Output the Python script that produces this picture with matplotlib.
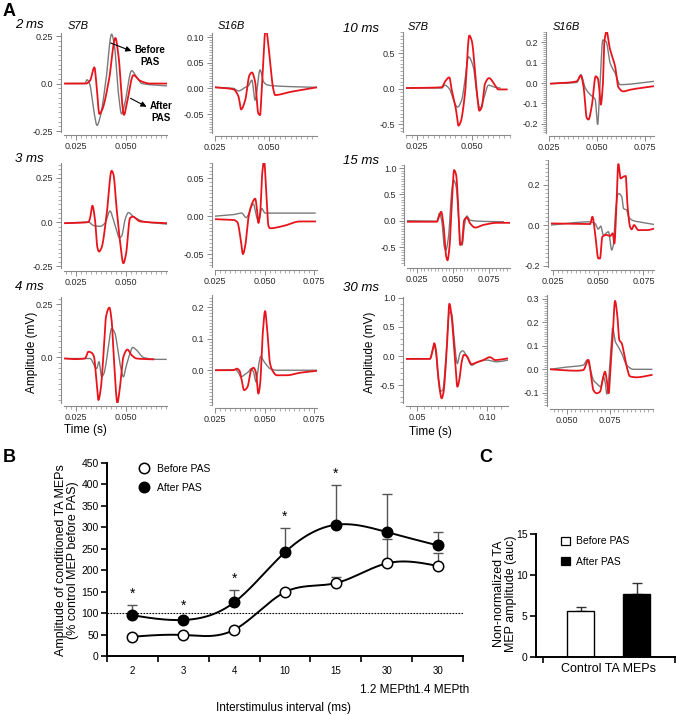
import numpy as np
import matplotlib
matplotlib.use("Agg")
import matplotlib.pyplot as plt
from matplotlib.ticker import MultipleLocator
from matplotlib.lines import Line2D
from matplotlib.patches import Patch

plt.rcParams['font.family'] = ['Liberation Sans', 'DejaVu Sans']

W, H = 676, 715
RED = '#e8141c'
GRAY = '#7a7a7a'
AXC = '#8a8a8a'

# ---------------- Panel A data: (time s, amplitude mV) ----------------
# grey = before PAS, red = after PAS
s7b_2ms_before = [(0.0195, 0.0), (0.0295, 0.0), (0.0305, 0.02), (0.0318, 0.0), (0.0340, -0.15), (0.0355, -0.22),
                  (0.0370, -0.18), (0.0400, 0.02), (0.0428, 0.26), (0.0442, 0.20), (0.0462, -0.05), (0.0478, -0.16),
                  (0.0495, -0.10), (0.0528, 0.068), (0.0550, 0.04), (0.0580, 0.0), (0.0703, -0.012)]
s7b_2ms_after = [(0.0195, 0.0), (0.0300, 0.0), (0.0320, 0.015), (0.0342, 0.085), (0.0352, 0.0), (0.0367, -0.16),
                 (0.0380, -0.14), (0.0415, 0.02), (0.0447, 0.24), (0.0462, 0.15), (0.0490, -0.165), (0.0505, -0.10),
                 (0.0537, 0.044), (0.0570, 0.015), (0.0620, 0.0), (0.0703, 0.0)]
s16b_2ms_before = [(0.0250, 0.002), (0.0335, 0.0), (0.0358, -0.005), (0.0389, 0.002), (0.0404, 0.005), (0.0420, 0.016),
                   (0.0435, -0.023), (0.0458, 0.036), (0.0474, 0.013), (0.0490, 0.007), (0.0520, 0.005), (0.0721, 0.002)]
s16b_2ms_after = [(0.0250, 0.002), (0.0335, -0.002), (0.0358, -0.016), (0.0370, -0.041), (0.0389, -0.023), (0.0409, 0.026),
                  (0.0420, 0.031), (0.0435, 0.013), (0.0450, -0.049), (0.0458, -0.052), (0.0466, 0.003), (0.0485, 0.118),
                  (0.0497, 0.082), (0.0520, -0.003), (0.0528, -0.013), (0.0597, -0.007), (0.0721, 0.002)]

s7b_3ms_before = [(0.0195, -0.006), (0.0312, 0.0), (0.0337, -0.019), (0.0370, -0.024), (0.0395, -0.006), (0.0420, 0.063),
                  (0.0437, 0.013), (0.0450, -0.033), (0.0467, -0.089), (0.0478, -0.080), (0.0495, 0.013), (0.0512, 0.054),
                  (0.0537, 0.031), (0.0587, 0.004), (0.0703, -0.011)]
s7b_3ms_after = [(0.0195, -0.006), (0.0312, 0.0), (0.0320, 0.022), (0.0332, 0.093), (0.0345, 0.013), (0.0357, -0.144),
                 (0.0365, -0.167), (0.0378, -0.144), (0.0403, 0.041), (0.0428, 0.291), (0.0437, 0.272), (0.0453, 0.078),
                 (0.0470, -0.107), (0.0487, -0.233), (0.0500, -0.181), (0.0520, 0.022), (0.0533, 0.031), (0.0570, 0.004),
                 (0.0703, -0.006)]
s16b_3ms_before = [(0.0250, 0.0), (0.0342, 0.002), (0.0384, 0.004), (0.0406, -0.002), (0.0443, 0.016), (0.0456, 0.002),
                   (0.0468, -0.007), (0.0485, 0.010), (0.0502, 0.004), (0.0544, 0.004), (0.0678, 0.004), (0.0754, 0.004)]
s16b_3ms_after = [(0.0250, -0.004), (0.0342, -0.005), (0.0362, -0.008), (0.0379, -0.031), (0.0390, -0.050), (0.0401, -0.040),
                  (0.0418, -0.002), (0.0435, 0.016), (0.0452, 0.023), (0.0460, 0.011), (0.0468, -0.009), (0.0477, 0.004),
                  (0.0488, 0.058), (0.0497, 0.073), (0.0507, 0.036), (0.0519, -0.013), (0.0527, -0.016), (0.0594, -0.013),
                  (0.0678, -0.007), (0.0754, -0.007)]

s7b_4ms_before = [(0.0195, -0.005), (0.0320, -0.005), (0.0353, -0.052), (0.0365, -0.020), (0.0378, -0.090), (0.0390, -0.075),
                  (0.0400, -0.028), (0.0412, 0.050), (0.0428, 0.136), (0.0445, 0.113), (0.0457, 0.050), (0.0473, -0.044),
                  (0.0487, -0.091), (0.0500, -0.044), (0.0520, 0.019), (0.0533, 0.047), (0.0553, 0.034), (0.0587, 0.0),
                  (0.0653, -0.009), (0.0700, -0.009)]
s7b_4ms_after = [(0.0195, -0.005), (0.0237, -0.008), (0.0295, -0.005), (0.0312, 0.027), (0.0328, 0.022), (0.0340, 0.003),
                 (0.0353, -0.122), (0.0362, -0.200), (0.0373, -0.153), (0.0390, 0.050), (0.0400, 0.191), (0.0417, 0.234),
                 (0.0428, 0.175), (0.0440, -0.013), (0.0457, -0.213), (0.0467, -0.161), (0.0487, 0.003), (0.0507, 0.037),
                 (0.0528, 0.011), (0.0553, -0.005), (0.0637, -0.009)]
s16b_4ms_before = [(0.0250, 0.0), (0.0351, 0.002), (0.0368, -0.008), (0.0379, -0.021), (0.0401, -0.013), (0.0418, -0.005),
                   (0.0431, 0.005), (0.0443, -0.005), (0.0456, -0.037), (0.0468, 0.011), (0.0480, 0.044), (0.0493, 0.031),
                   (0.0510, 0.016), (0.0527, 0.005), (0.0561, 0.0), (0.0762, 0.0)]
s16b_4ms_after = [(0.0250, 0.0), (0.0342, 0.0), (0.0359, 0.005), (0.0373, -0.002), (0.0384, -0.032), (0.0396, -0.063),
                  (0.0413, -0.053), (0.0431, 0.0), (0.0443, 0.008), (0.0455, -0.005), (0.0468, -0.074), (0.0477, -0.042),
                  (0.0490, 0.116), (0.0502, 0.187), (0.0510, 0.147), (0.0527, 0.021), (0.0540, -0.002), (0.0561, -0.016),
                  (0.0611, -0.016), (0.0678, -0.008), (0.0762, -0.002)]

s7b_10ms_before = [(0.0198, 0.01), (0.0362, 0.01), (0.0377, 0.05), (0.0397, 0.0), (0.0423, -0.21), (0.0434, -0.26),
                   (0.0454, -0.16), (0.0469, 0.12), (0.0485, 0.45), (0.0508, 0.30), (0.0523, -0.07), (0.0538, -0.28),
                   (0.0557, -0.12), (0.0577, 0.05), (0.0607, 0.02), (0.0630, 0.01)]
s7b_10ms_after = [(0.0198, 0.01), (0.0362, 0.02), (0.0377, 0.10), (0.0397, 0.16), (0.0408, -0.014), (0.0428, -0.30),
                  (0.0439, -0.52), (0.0449, -0.47), (0.0469, -0.07), (0.0489, 0.75), (0.0500, 0.68), (0.0523, -0.02),
                  (0.0535, -0.31), (0.0546, -0.26), (0.0561, 0.07), (0.0580, 0.15), (0.0607, 0.05), (0.0623, -0.01),
                  (0.0661, -0.01)]
s16b_10ms_before = [(0.0259, -0.003), (0.0394, 0.003), (0.0415, 0.041), (0.0438, -0.024), (0.0464, -0.057), (0.0490, -0.081),
                    (0.0503, -0.203), (0.0512, -0.065), (0.0530, 0.211), (0.0547, 0.203), (0.0568, 0.098), (0.0594, 0.049),
                    (0.0620, -0.008), (0.0793, 0.008)]
s16b_10ms_after = [(0.0259, -0.003), (0.0394, 0.008), (0.0415, 0.036), (0.0429, -0.016), (0.0446, -0.171), (0.0455, -0.179),
                   (0.0472, -0.114), (0.0493, 0.033), (0.0503, 0.024), (0.0516, -0.073), (0.0519, -0.106), (0.0530, -0.008),
                   (0.0538, 0.203), (0.0550, 0.252), (0.0564, 0.179), (0.0576, 0.138), (0.0594, 0.081), (0.0611, -0.020),
                   (0.0637, -0.041), (0.0672, -0.033), (0.0793, -0.016)]

s7b_15ms_before = [(0.0181, 0.0), (0.0389, -0.01), (0.0407, 0.14), (0.0424, -0.02), (0.0440, -0.49), (0.0451, -0.56),
                   (0.0470, -0.30), (0.0493, 0.58), (0.0505, 0.77), (0.0523, 0.65), (0.0539, 0.08), (0.0551, -0.40),
                   (0.0565, -0.46), (0.0579, -0.11), (0.0597, 0.09), (0.0620, 0.01), (0.0690, -0.01), (0.0852, -0.02)]
s7b_15ms_after = [(0.0181, -0.02), (0.0389, -0.02), (0.0407, 0.11), (0.0419, 0.17), (0.0435, -0.08), (0.0454, -0.68),
                  (0.0463, -0.75), (0.0477, -0.49), (0.0493, 0.33), (0.0509, 0.96), (0.0523, 0.87), (0.0539, 0.20),
                  (0.0551, -0.46), (0.0563, -0.43), (0.0579, 0.01), (0.0597, 0.06), (0.0620, -0.05), (0.0655, -0.13),
                  (0.0713, -0.08), (0.0806, -0.04), (0.0898, -0.04)]
s16b_15ms_before = [(0.0235, 0.0), (0.0454, 0.016), (0.0481, 0.008), (0.0500, -0.02), (0.0513, -0.005), (0.0528, -0.05),
                    (0.0556, -0.033), (0.0574, -0.123), (0.0583, -0.099), (0.0596, 0.074), (0.0611, 0.156), (0.0630, 0.140),
                    (0.0639, 0.082), (0.0657, 0.074), (0.0667, 0.044), (0.0685, 0.025), (0.0750, 0.012), (0.0809, 0.003)]
s16b_15ms_after = [(0.0235, 0.008), (0.0454, 0.005), (0.0467, 0.041), (0.0481, -0.033), (0.0500, -0.165), (0.0509, -0.165),
                   (0.0522, -0.058), (0.0546, -0.049), (0.0565, -0.054), (0.0580, -0.041), (0.0589, -0.091), (0.0598, 0.041),
                   (0.0611, 0.301), (0.0624, 0.230), (0.0639, 0.239), (0.0652, 0.242), (0.0661, 0.107), (0.0676, -0.008),
                   (0.0685, -0.021), (0.0698, 0.0), (0.0722, -0.025), (0.0769, -0.025), (0.0809, -0.018)]

s7b_30ms_before = [(0.0419, -0.05), (0.0590, -0.05), (0.0610, 0.13), (0.0621, 0.19), (0.0633, 0.05), (0.0650, -0.41),
                   (0.0662, -0.61), (0.0681, -0.59), (0.0705, -0.01), (0.0729, 0.76), (0.0745, 0.73), (0.0762, 0.33),
                   (0.0776, -0.01), (0.0786, -0.13), (0.0805, 0.05), (0.0824, 0.09), (0.0848, 0.02), (0.0888, -0.16),
                   (0.0924, -0.11), (0.0995, -0.07), (0.1067, -0.10), (0.1150, -0.07)]
s7b_30ms_after = [(0.0419, -0.05), (0.0590, -0.05), (0.0610, 0.10), (0.0621, 0.22), (0.0633, 0.10), (0.0650, -0.36),
                  (0.0674, -0.73), (0.0686, -0.64), (0.0710, 0.10), (0.0729, 0.90), (0.0745, 0.68), (0.0762, 0.16),
                  (0.0776, -0.30), (0.0786, -0.53), (0.0800, -0.41), (0.0817, -0.10), (0.0833, 0.02), (0.0852, 0.0),
                  (0.0888, -0.14), (0.0924, -0.11), (0.0971, -0.07), (0.1019, -0.02), (0.1055, -0.07), (0.1150, -0.04)]
s16b_30ms_before = [(0.0403, 0.0), (0.0481, 0.008), (0.0597, 0.018), (0.0620, 0.040), (0.0636, 0.004), (0.0655, -0.045),
                    (0.0674, -0.060), (0.0698, -0.074), (0.0713, -0.031), (0.0725, -0.060), (0.0733, -0.105), (0.0744, -0.045),
                    (0.0756, 0.082), (0.0767, 0.175), (0.0783, 0.118), (0.0800, 0.096), (0.0820, 0.068), (0.0849, 0.018),
                    (0.0888, 0.0), (0.0994, 0.0)]
s16b_30ms_after = [(0.0403, 0.0), (0.0558, -0.006), (0.0597, -0.003), (0.0626, 0.040), (0.0640, -0.014), (0.0655, -0.088),
                   (0.0674, -0.102), (0.0694, -0.095), (0.0709, -0.045), (0.0723, -0.010), (0.0733, -0.045), (0.0744, -0.102),
                   (0.0756, 0.026), (0.0767, 0.132), (0.0781, 0.291), (0.0795, 0.224), (0.0806, 0.125), (0.0820, 0.111),
                   (0.0833, 0.068), (0.0849, 0.011), (0.0868, -0.030), (0.0907, -0.034), (0.0994, -0.024)]

# ---------------- Panel B data ----------------
isi_labels = ['2', '3', '4', '10', '15', '30', '30']
before_pas = [45, 49, 61, 149, 170, 216, 210]
before_sem = [3, 3, 3, 6, 15, 57, 30]
after_pas = [95, 84, 125, 242, 306, 289, 258]
after_sem = [24, 6, 29, 56, 92, 89, 32]
significant = [True, True, True, True, True, False, False]

# ---------------- Panel C data ----------------
control_groups = ['Before PAS', 'After PAS']
control_auc = [5.55, 7.7]
control_sem = [0.55, 1.35]


def pchip_curve(pts, n=16):
    x = np.array([p[0] for p in pts], float)
    y = np.array([p[1] for p in pts], float)
    h = np.diff(x)
    d = np.diff(y) / h
    m = np.zeros_like(y)
    for k in range(1, len(x) - 1):
        if d[k - 1] * d[k] > 0:
            w1 = 2 * h[k] + h[k - 1]
            w2 = h[k] + 2 * h[k - 1]
            m[k] = (w1 + w2) / (w1 / d[k - 1] + w2 / d[k])
    m[0] = d[0]
    m[-1] = d[-1]
    xs, ys = [], []
    t = np.linspace(0, 1, n, endpoint=False)
    h00 = 2 * t**3 - 3 * t**2 + 1
    h10 = t**3 - 2 * t**2 + t
    h01 = -2 * t**3 + 3 * t**2
    h11 = t**3 - t**2
    for k in range(len(x) - 1):
        xs.append(x[k] + t * h[k])
        ys.append(h00 * y[k] + h10 * h[k] * m[k] + h01 * y[k + 1] + h11 * h[k] * m[k + 1])
    xs.append([x[-1]])
    ys.append([y[-1]])
    return np.concatenate(xs), np.concatenate(ys)


def natural_spline(x, y, xs):
    x = np.asarray(x, float)
    y = np.asarray(y, float)
    n = len(x)
    h = np.diff(x)
    A = np.zeros((n, n))
    r = np.zeros(n)
    A[0, 0] = A[-1, -1] = 1
    for i in range(1, n - 1):
        A[i, i - 1] = h[i - 1]
        A[i, i] = 2 * (h[i - 1] + h[i])
        A[i, i + 1] = h[i]
        r[i] = 6 * ((y[i + 1] - y[i]) / h[i] - (y[i] - y[i - 1]) / h[i - 1])
    M = np.linalg.solve(A, r)
    idx = np.clip(np.searchsorted(x, xs) - 1, 0, n - 2)
    x0, x1 = x[idx], x[idx + 1]
    hh = x1 - x0
    return (M[idx] * (x1 - xs)**3 / (6 * hh) + M[idx + 1] * (xs - x0)**3 / (6 * hh)
            + (y[idx] / hh - M[idx] * hh / 6) * (x1 - xs) + (y[idx + 1] / hh - M[idx + 1] * hh / 6) * (xs - x0))


fig = plt.figure(figsize=(W / 100, H / 100), dpi=100)


def ax_px(l, t, r, b):
    return fig.add_axes([l / W, 1 - b / H, (r - l) / W, (b - t) / H])


def ftext(x, y, s, **kw):
    return fig.text(x / W, 1 - y / H, s, **kw)


# ---------------- Panel A ----------------
panels = [
    (s7b_2ms_before, s7b_2ms_after, (64, 33, 167, 132), (0.019, 0.0705), (-0.255, 0.266),
     [0.025, 0.05], ['0.025', '0.050'], [-0.25, 0, 0.25], ['-0.25', '0.0', '0.25'], 0.0025, 0.025),
    (s16b_2ms_before, s16b_2ms_after, (215, 33, 317, 133), (0.0249, 0.0722), (-0.087, 0.108),
     [0.025, 0.05], ['0.025', '0.050'], [-0.05, 0, 0.05, 0.10], ['-0.05', '0.00', '0.05', '0.10'], 0.0025, 0.005),
    (s7b_10ms_before, s7b_10ms_after, (406, 32, 510, 132), (0.0198, 0.0676), (-0.61, 0.80),
     [0.025, 0.05], ['0.025', '0.050'], [-0.5, 0, 0.5], ['-0.5', '0.0', '0.5'], 0.0025, 0.05),
    (s16b_10ms_before, s16b_10ms_after, (549, 32, 654, 133), (0.0249, 0.0797), (-0.245, 0.25),
     [0.025, 0.05, 0.075], ['0.025', '0.050', '0.075'], [-0.2, -0.1, 0, 0.1, 0.2], ['-0.2', '-0.1', '0.0', '0.1', '0.2'], 0.0025, 0.01),
    (s7b_3ms_before, s7b_3ms_after, (64, 163, 167, 268), (0.019, 0.0705), (-0.26, 0.335),
     [0.025, 0.05], ['0.025', '0.050'], [-0.25, 0, 0.25], ['-0.25', '0.0', '0.25'], 0.0025, 0.025),
    (s16b_3ms_before, s16b_3ms_after, (215, 163, 317, 267), (0.0249, 0.0764), (-0.067, 0.07),
     [0.025, 0.05, 0.075], ['0.025', '0.050', '0.075'], [-0.05, 0, 0.05], ['-0.05', '0.00', '0.05'], 0.0025, 0.005),
    (s7b_15ms_before, s7b_15ms_after, (407, 165, 510, 265), (0.0181, 0.0898), (-0.84, 1.057),
     [0.025, 0.05, 0.075], ['0.025', '0.050', '0.075'], [-0.5, 0, 0.5, 1.0], ['-0.5', '0.0', '0.5', '1.0'], 0.0025, 0.05),
    (s16b_15ms_before, s16b_15ms_after, (551, 160, 654, 267), (0.0237, 0.0809), (-0.207, 0.321),
     [0.025, 0.05, 0.075], ['0.025', '0.050', '0.075'], [-0.2, 0, 0.2], ['-0.2', '0.0', '0.2'], 0.0025, 0.02),
    (s7b_4ms_before, s7b_4ms_after, (64, 297, 167, 403), (0.019, 0.0705), (-0.214, 0.284),
     [0.025, 0.05], ['0.025', '0.050'], [0, 0.25], ['0.0', '0.25'], 0.0025, 0.025),
    (s16b_4ms_before, s16b_4ms_after, (215, 295, 317, 405), (0.0249, 0.0764), (-0.11, 0.238),
     [0.025, 0.05, 0.075], ['0.025', '0.050', '0.075'], [0, 0.1, 0.2], ['0.0', '0.1', '0.2'], 0.0025, 0.01),
    (s7b_30ms_before, s7b_30ms_after, (406, 297, 508, 403), (0.0419, 0.1148), (-0.81, 1.017),
     [0.05, 0.10], ['0.05', '0.10'], [-0.5, 0, 0.5, 1.0], ['-0.5', '0.0', '0.5', '1.0'], 0.005, 0.1),
    (s16b_30ms_before, s16b_30ms_after, (550, 295, 653, 406), (0.0403, 0.1002), (-0.156, 0.316),
     [0.05, 0.075], ['0.050', '0.075'], [-0.1, 0, 0.1, 0.2, 0.3], ['-0.1', '0.0', '0.1', '0.2', '0.3'], 0.0025, 0.01),
]

for before, after, rect, xl, yl, xt, xtl, yt, ytl, xmin, ymin in panels:
    ax = ax_px(*rect)
    bx, by = pchip_curve(before)
    rx, ry = pchip_curve(after)
    ax.plot(bx, by, color=GRAY, lw=1.0)
    ax.plot(rx, ry, color=RED, lw=1.3)
    ax.set_xlim(*xl)
    ax.set_ylim(*yl)
    for s in ('top', 'right'):
        ax.spines[s].set_visible(False)
    for s in ('left', 'bottom'):
        ax.spines[s].set_position(('outward', 2.5))
        ax.spines[s].set_color(AXC)
        ax.spines[s].set_linewidth(0.8)
    ax.set_xticks(xt)
    ax.set_xticklabels(xtl)
    ax.set_yticks(yt)
    ax.set_yticklabels(ytl)
    ax.xaxis.set_minor_locator(MultipleLocator(xmin))
    ax.yaxis.set_minor_locator(MultipleLocator(ymin))
    ax.tick_params(which='major', length=3.5, width=0.7, color=AXC, labelsize=6.5,
                   labelcolor='#2a2a2a', pad=1.5)
    ax.tick_params(which='minor', length=2, width=0.5, color=AXC)
    ax.patch.set_alpha(0)

ftext(3, 11, 'A', fontsize=13, fontweight='bold', va='center')
for x, y, s in [(15, 25, '2 ms'), (15, 159, '3 ms'), (15, 287, '4 ms'),
                (343, 29, '10 ms'), (343, 161, '15 ms'), (343, 288, '30 ms')]:
    ftext(x, y, s, fontsize=9.5, style='italic', va='center')
for x, y, s in [(68, 26, 'S7B'), (218, 26, 'S16B'), (408, 27, 'S7B'), (553, 27, 'S16B')]:
    ftext(x, y, s, fontsize=8, style='italic', va='center')

ftext(150, 56, 'Before\nPAS', fontsize=7, fontweight='bold', ha='center', va='center', linespacing=1.15)
ftext(161, 112, 'After\nPAS', fontsize=7, fontweight='bold', ha='center', va='center', linespacing=1.15)
fig.add_artist(matplotlib.patches.FancyArrowPatch((108 / W, 1 - 42 / H), (134 / W, 1 - 52 / H),
                                                  transform=fig.transFigure, arrowstyle='-|>',
                                                  mutation_scale=8, lw=0.8, color='black'))
fig.add_artist(matplotlib.patches.FancyArrowPatch((128 / W, 1 - 97 / H), (149 / W, 1 - 108 / H),
                                                  transform=fig.transFigure, arrowstyle='-|>',
                                                  mutation_scale=8, lw=0.8, color='black'))

for x, y in [(32, 352), (370, 352)]:
    ftext(x, y, 'Amplitude (mV)', fontsize=8.5, rotation=90, ha='center', va='center')
for x, y in [(85, 430), (430, 432)]:
    ftext(x, y, 'Time (s)', fontsize=8.5, ha='center', va='center')

# ---------------- Panel B ----------------
axB = ax_px(107, 463, 463, 656)
xc = np.arange(len(isi_labels)) + 0.5
xs = np.linspace(xc[0], xc[-1], 400)
axB.plot(xs, natural_spline(xc, after_pas, xs), color='black', lw=1.4, zorder=2)
axB.plot(xs, natural_spline(xc, before_pas, xs), color='black', lw=1.4, zorder=2)
axB.errorbar(xc, after_pas, yerr=[np.zeros(len(xc)), after_sem], fmt='none', ecolor='#555555',
             elinewidth=1.0, capsize=3.5, capthick=1.0, zorder=1)
axB.errorbar(xc, before_pas, yerr=[np.zeros(len(xc)), before_sem], fmt='none', ecolor='#555555',
             elinewidth=1.0, capsize=3.5, capthick=1.0, zorder=1)
axB.plot(xc, before_pas, 'o', ms=7.5, mfc='white', mec='black', mew=1.1, zorder=5)
axB.plot(xc, after_pas, 'o', ms=7.5, mfc='black', mec='black', mew=1.1, zorder=5)
axB.axhline(100, color='black', lw=0.8, ls=(0, (1.5, 1.2)), zorder=0)
for xi, a, e, sg in zip(xc, after_pas, after_sem, significant):
    if sg:
        axB.text(xi, a + e + 26, '*', ha='center', va='center', fontsize=10)
axB.set_xlim(0, len(isi_labels))
axB.set_ylim(0, 450)
for s in ('top', 'right'):
    axB.spines[s].set_visible(False)
for s in ('left', 'bottom'):
    axB.spines[s].set_linewidth(1.4)
axB.set_yticks(np.arange(0, 451, 50))
axB.set_xticks(np.arange(0, len(isi_labels) + 1))
axB.set_xticklabels([])
axB.set_xticks(xc, minor=True)
axB.set_xticklabels(isi_labels, minor=True)
axB.tick_params(axis='y', which='major', length=4, width=1.2, labelsize=7.5, pad=2)
axB.tick_params(axis='x', which='major', length=4, width=1.2)
axB.tick_params(axis='x', which='minor', length=0, labelsize=7, pad=7)
legB = axB.legend(handles=[Line2D([], [], marker='o', ls='none', ms=7.5, mfc='white', mec='black', mew=1.1),
                           Line2D([], [], marker='o', ls='none', ms=7.5, mfc='black', mec='black', mew=1.1)],
                  labels=['Before PAS', 'After PAS'], loc='upper left', bbox_to_anchor=(0.055, 1.035),
                  frameon=False, fontsize=7.5, handletextpad=0.2, labelspacing=0.9, borderpad=0.2)
ftext(67, 560, 'Amplitude of conditioned TA MEPs\n(% control MEP before PAS)', fontsize=9,
      rotation=90, ha='center', va='center', multialignment='center', linespacing=1.1)
ftext(388, 690, '1.2 MEPth', fontsize=8.5, ha='center', va='center')
ftext(442, 690, '1.4 MEPth', fontsize=8.5, ha='center', va='center')
ftext(283, 708, 'Interstimulus interval (ms)', fontsize=8.5, ha='center', va='center')
ftext(9, 457, 'B', fontsize=13, fontweight='bold', ha='center', va='center')

# ---------------- Panel C ----------------
axC = ax_px(536, 534, 675, 657)
xb = np.arange(len(control_groups))
axC.errorbar(xb, control_auc, yerr=[np.zeros(len(xb)), control_sem], fmt='none', ecolor='#333333',
             elinewidth=1.0, capsize=3.5, capthick=1.0, zorder=1)
bars = axC.bar(xb, control_auc, width=0.48, color=['white', 'black'], edgecolor='black', lw=1.0, zorder=2)
axC.set_xlim(-0.795, 1.6875)
axC.set_ylim(0, 15)
for s in ('top', 'right'):
    axC.spines[s].set_visible(False)
for s in ('left', 'bottom'):
    axC.spines[s].set_linewidth(1.4)
axC.set_yticks([0, 5, 10, 15])
axC.set_xticks([-0.675, 1.6875])
axC.set_xticklabels([])
axC.set_xticks([0.5], minor=True)
axC.set_xticklabels(['Control TA MEPs'], minor=True)
axC.tick_params(axis='y', which='major', length=4, width=1.2, labelsize=7.5, pad=2)
axC.tick_params(axis='x', which='major', length=4, width=1.2)
axC.tick_params(axis='x', which='minor', length=0, labelsize=9, pad=4)
axC.legend(handles=[Patch(facecolor='white', edgecolor='black', lw=0.9),
                    Patch(facecolor='black', edgecolor='black', lw=0.9)],
           labels=control_groups, loc='upper left', bbox_to_anchor=(0.13, 1.04), frameon=False,
           fontsize=7.5, handlelength=0.8, handleheight=0.8, handletextpad=0.6, labelspacing=1.0, borderpad=0.2)
ftext(505, 594, 'Non-normalized TA\nMEP amplitude (auc)', fontsize=9, rotation=90, ha='center', va='center',
      multialignment='center', linespacing=1.1)
ftext(486, 457, 'C', fontsize=13, fontweight='bold', ha='center', va='center')

fig.savefig('out.png', dpi=100)
